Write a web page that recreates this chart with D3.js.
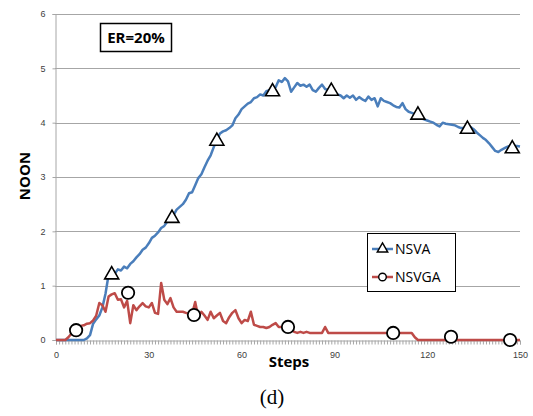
<!DOCTYPE html>
<html>
<head>
<meta charset="utf-8">
<script src="https://cdn.jsdelivr.net/npm/d3@7"></script>
<style>
  body { margin: 0; background: #fff; }
  svg { display: block; }
  .tick text { font-family: "Liberation Sans", Arial, sans-serif; font-size: 9px; fill: #404040; }
</style>
</head>
<body>
<svg width="533" height="416"></svg>
<script>
// NOON per step, steps 0..150
var steps = d3.range(0, 151);
var nsva = [0,0,0,0,0,0,0,0,0,0, 0.03,0.09,0.3,0.38,0.45,0.6,0.85,1.2,1.24,1.22,
  1.3,1.28,1.35,1.32,1.4,1.45,1.52,1.58,1.66,1.7, 1.78,1.88,1.92,1.98,2.06,2.1,2.18,2.25,2.3,2.4,
  2.45,2.5,2.58,2.7,2.72,2.85,2.98,3.05,3.18,3.3, 3.4,3.55,3.68,3.8,3.84,3.86,3.9,3.95,4.08,4.15,
  4.25,4.3,4.35,4.38,4.45,4.47,4.52,4.5,4.58,4.6, 4.62,4.65,4.78,4.75,4.82,4.76,4.57,4.65,4.73,4.68,
  4.7,4.66,4.7,4.6,4.57,4.64,4.7,4.62,4.6,4.58, 4.55,4.52,4.5,4.45,4.5,4.46,4.5,4.42,4.47,4.43,
  4.4,4.48,4.42,4.45,4.3,4.45,4.4,4.38,4.36,4.32, 4.29,4.28,4.36,4.25,4.2,4.18,4.16,4.12,4.08,4.06,
  4.04,4.02,4.0,3.96,3.93,4.0,3.98,3.97,3.96,3.95, 3.92,3.9,3.9,3.88,3.92,3.88,3.82,3.77,3.72,3.68,
  3.62,3.55,3.48,3.46,3.5,3.53,3.56,3.58,3.57,3.57, 3.56];
var nsvga = [0,0,0,0,0.05,0.12,0.2,0.25,0.26,0.27, 0.3,0.31,0.36,0.45,0.68,0.64,0.52,0.8,0.84,0.86,
  0.74,0.75,0.6,0.72,0.31,0.64,0.55,0.62,0.68,0.62, 0.6,0.68,0.5,0.48,1.05,0.74,0.66,0.77,0.6,0.52,
  0.52,0.52,0.5,0.48,0.48,0.7,0.42,0.52,0.45,0.37, 0.52,0.4,0.45,0.5,0.35,0.31,0.42,0.5,0.55,0.4,
  0.31,0.37,0.35,0.52,0.28,0.26,0.24,0.24,0.22,0.24, 0.28,0.31,0.24,0.24,0.24,0.24,0.2,0.15,0.13,0.15,
  0.13,0.15,0.13,0.13,0.13,0.13,0.13,0.24,0.13,0.13, 0.13,0.13,0.13,0.13,0.13,0.13,0.13,0.13,0.13,0.13,
  0.13,0.13,0.13,0.13,0.13,0.13,0.13,0.13,0.13,0.13, 0.13,0.13,0.13,0.13,0.13,0.13,0.05,0,0,0,
  0,0,0,0,0,0,0,0,0,0, 0,0,0,0,0,0,0,0,0,0,
  0,0,0,0,0,0,0,0,0,0, 0];

// marker points
var nsvaMarkSteps = [18, 37.5, 52, 70, 89, 117, 133, 147.5];
var nsvaMarkVals  = [1.2, 2.24, 3.66, 4.57, 4.58, 4.14, 3.88, 3.52];
var nsvgaMarkSteps = [6.5, 23.3, 44.6, 75, 109, 127.7, 146.8];
var nsvgaMarkVals  = [0.18, 0.87, 0.46, 0.24, 0.13, 0.06, 0];

var xTicks = [0, 30, 60, 90, 120, 150];
var yTicks = [0, 1, 2, 3, 4, 5, 6];

var svg = d3.select("svg");
var x = d3.scaleLinear().domain([0, 150]).range([56, 520]);
var y = d3.scaleLinear().domain([0, 6]).range([340, 14]);

// gridlines
svg.append("g").selectAll("line")
  .data(yTicks.slice(1))
  .enter().append("line")
  .attr("x1", 55).attr("x2", 520)
  .attr("y1", function(d) { return Math.round(y(d)) + 0.5; })
  .attr("y2", function(d) { return Math.round(y(d)) + 0.5; })
  .attr("stroke", "#a6a6a6").attr("stroke-width", 1);

// y axis
var gy = svg.append("g")
  .attr("transform", "translate(55.5,0)")
  .call(d3.axisLeft(y).tickValues(yTicks).tickFormat(d3.format("d")).tickSize(3).tickPadding(7));
gy.select(".domain").attr("stroke", "#a6a6a6");
gy.selectAll(".tick line").attr("stroke", "#a6a6a6");

// x axis: minor ticks every step
var gx = svg.append("g")
  .attr("transform", "translate(0,340.5)")
  .call(d3.axisBottom(x).tickValues(steps).tickSize(4).tickFormat(""));
gx.select(".domain").attr("stroke", "#a6a6a6");
gx.selectAll(".tick line").attr("stroke", "#a6a6a6");

var gxl = svg.append("g")
  .attr("transform", "translate(0,340.5)")
  .call(d3.axisBottom(x).tickValues(xTicks).tickSize(0).tickPadding(11));
gxl.select(".domain").remove();

// lines
var line = d3.line()
  .x(function(d, i) { return x(steps[i]); })
  .y(function(d) { return y(d); });

svg.append("path").datum(nsva)
  .attr("d", line).attr("fill", "none")
  .attr("stroke", "#4a7ebb").attr("stroke-width", 2.5).attr("stroke-linejoin", "round");
svg.append("path").datum(nsvga)
  .attr("d", line).attr("fill", "none")
  .attr("stroke", "#be4b48").attr("stroke-width", 2.5).attr("stroke-linejoin", "round");

// markers
var tri = d3.symbol().type(d3.symbolTriangle).size(85);
svg.append("g").selectAll("path")
  .data(nsvaMarkSteps)
  .enter().append("path")
  .attr("d", tri)
  .attr("transform", function(d, i) { return "translate(" + x(d) + "," + y(nsvaMarkVals[i]) + ")"; })
  .attr("fill", "#fff").attr("stroke", "#000").attr("stroke-width", 1.6);

svg.append("g").selectAll("circle")
  .data(nsvgaMarkSteps)
  .enter().append("circle")
  .attr("cx", function(d) { return x(d); })
  .attr("cy", function(d, i) { return y(nsvgaMarkVals[i]); })
  .attr("r", 6.2)
  .attr("fill", "#fff").attr("stroke", "#000").attr("stroke-width", 1.8);

// ER box
svg.append("rect").attr("x", 100.5).attr("y", 23.5).attr("width", 71).attr("height", 28)
  .attr("fill", "#fff").attr("stroke", "#000").attr("stroke-width", 1.5);
svg.append("text").attr("x", 136).attr("y", 43)
  .attr("text-anchor", "middle")
  .style("font-family", "'Open Sans', sans-serif").style("font-weight", "bold").style("font-size", "15px")
  .text("ER=20%");

// axis titles
svg.append("text")
  .attr("transform", "translate(30,176) rotate(-90)")
  .attr("text-anchor", "middle")
  .style("font-family", "'Open Sans', sans-serif").style("font-weight", "bold").style("font-size", "15px")
  .text("NOON");
svg.append("text").attr("x", 289).attr("y", 367)
  .attr("text-anchor", "middle")
  .style("font-family", "'Open Sans', sans-serif").style("font-weight", "bold").style("font-size", "15px")
  .text("Steps");

svg.append("text").attr("x", 272).attr("y", 404)
  .attr("text-anchor", "middle")
  .style("font-family", "'Liberation Serif', serif").style("font-size", "21px")
  .text("(d)");

// legend
var legend = svg.append("g");
legend.append("rect").attr("x", 367.5).attr("y", 233.5).attr("width", 88).attr("height", 58)
  .attr("fill", "#fff").attr("stroke", "#000").attr("stroke-width", 1);
var legItems = [
  { name: "NSVA", color: "#4a7ebb", y: 249, mark: "tri" },
  { name: "NSVGA", color: "#be4b48", y: 277, mark: "circle" }
];
legItems.forEach(function(d) {
  legend.append("line").attr("x1", 372).attr("x2", 393).attr("y1", d.y).attr("y2", d.y)
    .attr("stroke", d.color).attr("stroke-width", 2.5);
  if (d.mark === "tri") {
    legend.append("path").attr("d", d3.symbol().type(d3.symbolTriangle).size(48))
      .attr("transform", "translate(382.5," + d.y + ")")
      .attr("fill", "#fff").attr("stroke", "#000").attr("stroke-width", 1.4);
  } else {
    legend.append("circle").attr("cx", 382.5).attr("cy", d.y).attr("r", 3.8)
      .attr("fill", "#fff").attr("stroke", "#000").attr("stroke-width", 1.4);
  }
  legend.append("text").attr("x", 395).attr("y", d.y + 5)
    .style("font-family", "'Open Sans', sans-serif").style("font-size", "14px")
    .text(d.name);
});
</script>
</body>
</html>
